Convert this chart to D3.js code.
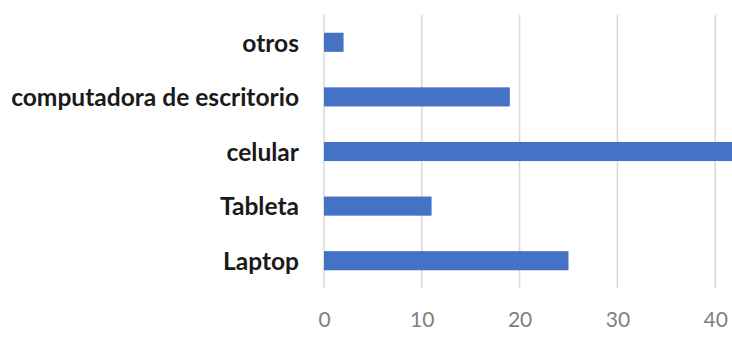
<!DOCTYPE html>
<html><head><meta charset="utf-8">
<script src="https://cdn.jsdelivr.net/npm/d3@7"></script>
<style>html,body{margin:0;padding:0;background:#fff;overflow:hidden}</style>
</head><body>
<svg id="c" width="732" height="337"></svg>
<script>
const categories = ["otros", "computadora de escritorio", "celular", "Tableta", "Laptop"];
const values = [2, 19, 43, 11, 25];
const tickValues = [0, 10, 20, 30, 40];

const svg = d3.select("#c");
const x = d3.scaleLinear().domain([0, 10]).range([324, 421.8]);
const y = d3.scaleBand().domain(categories).range([15, 288]).paddingInner(0.65).paddingOuter(0.325);

// gridlines
svg.append("g").selectAll("line").data(tickValues).join("line")
  .attr("x1", d => x(d)).attr("x2", d => x(d))
  .attr("y1", 15).attr("y2", 288)
  .attr("stroke", "#d9d9d9").attr("stroke-width", 1.5);

// bars
svg.append("g").selectAll("rect").data(categories).join("rect")
  .attr("x", x(0))
  .attr("y", d => y(d))
  .attr("width", (d, i) => x(values[i]) - x(0))
  .attr("height", y.bandwidth())
  .attr("fill", "#4472c4");

// x axis
const xAxis = d3.axisBottom(x).tickValues(tickValues).tickSize(0).tickPadding(0);
const gx = svg.append("g").attr("transform", "translate(0,312)").call(xAxis);
gx.select(".domain").remove();
gx.selectAll("text").attr("font-family", "Lato, 'Open Sans', sans-serif")
  .attr("font-size", 21).attr("font-weight", 400).attr("fill", "#7f7f7f");

// y axis labels
const yAxis = d3.axisLeft(y).tickSize(0).tickPadding(0);
const gy = svg.append("g").attr("transform", "translate(299,1.5)").call(yAxis);
gy.select(".domain").remove();
const yt = gy.selectAll("text").attr("font-family", "Lato, 'Open Sans', sans-serif")
  .attr("font-weight", 700).attr("fill", "#1a1a1a").attr("font-size", 20);
// fit longest label width to reference (~288px)
let maxLen = 0;
yt.each(function(){ maxLen = Math.max(maxLen, this.getComputedTextLength()); });
const fs = 20 * 288 / maxLen;
yt.attr("font-size", fs);
</script>
</body></html>
